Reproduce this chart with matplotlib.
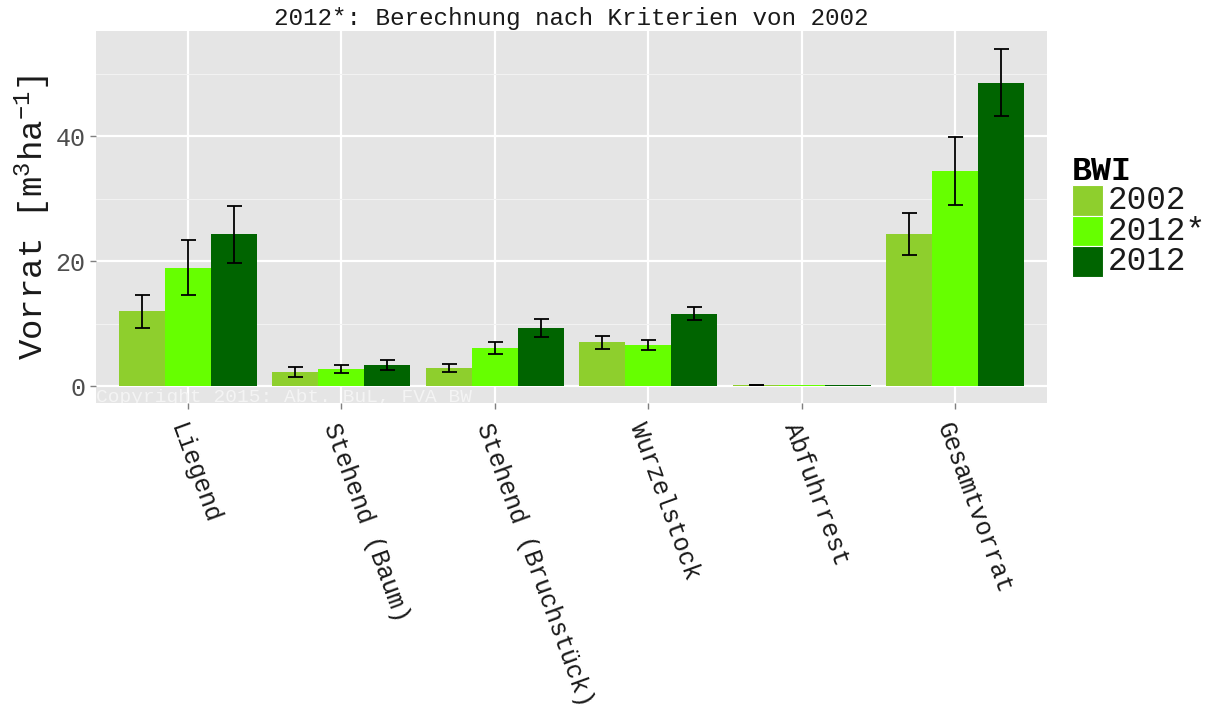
import matplotlib
matplotlib.use("Agg")
import matplotlib.pyplot as plt
from matplotlib.patches import Rectangle
import numpy as np

categories = ["Liegend", "Stehend (Baum)", "Stehend (Bruchstück)", "Wurzelstock", "Abfuhrrest", "Gesamtvorrat"]
series = ["2002", "2012*", "2012"]
colors = ["#8ECF2D", "#66FF00", "#006400"]

vals_2002 = [12.0, 2.2, 2.9, 7.0, 0.15, 24.3]
low_2002 = [9.3, 1.4, 2.2, 6.0, 0.10, 21.0]
high_2002 = [14.6, 3.1, 3.6, 8.05, 0.20, 27.7]

vals_2012s = [18.9, 2.7, 6.1, 6.55, 0.10, 34.4]
low_2012s = [14.6, 2.1, 5.1, 5.8, np.nan, 29.0]
high_2012s = [23.4, 3.4, 7.0, 7.4, np.nan, 39.9]

vals_2012 = [24.3, 3.4, 9.3, 11.5, 0.10, 48.6]
low_2012 = [19.7, 2.6, 7.9, 10.6, np.nan, 43.2]
high_2012 = [28.8, 4.2, 10.7, 12.6, np.nan, 54.0]

values = [vals_2002, vals_2012s, vals_2012]
lows = [low_2002, low_2012s, low_2012]
highs = [high_2002, high_2012s, high_2012]

title = "2012*: Berechnung nach Kriterien von 2002"
ylabel = "Vorrat [m$^3$ha$^{-1}$]"
legend_title = "BWI"
copyright_text = "Copyright 2015: Abt. BuL, FVA BW"
yticks = [0, 20, 40]
yminor = [10, 30, 50]

FONT = "Liberation Mono"
plt.rcParams["font.family"] = [FONT, "DejaVu Sans"]
plt.rcParams["mathtext.fontset"] = "custom"
plt.rcParams["mathtext.rm"] = FONT
plt.rcParams["mathtext.it"] = FONT
plt.rcParams["mathtext.bf"] = FONT + ":bold"

W, H = 1221, 713
fig = plt.figure(figsize=(W / 100, H / 100), dpi=100)
L, R, T, B = 96, 1047, 31, 403
ax = fig.add_axes([L / W, 1 - B / H, (R - L) / W, (B - T) / H])
ax.set_facecolor("#E5E5E5")
for s in ax.spines.values():
    s.set_visible(False)

x = np.arange(1, len(categories) + 1)
bw = 0.3
for i, (v, lo, hi, c) in enumerate(zip(values, lows, highs, colors)):
    xp = x + (i - 1) * bw
    ax.bar(xp, v, width=bw, color=c, zorder=2, linewidth=0)
    v = np.array(v, dtype=float); lo = np.array(lo, dtype=float); hi = np.array(hi, dtype=float)
    ok = ~np.isnan(lo)
    ax.errorbar(xp[ok], v[ok], yerr=[v[ok] - lo[ok], hi[ok] - v[ok]], fmt="none", ecolor="black",
                elinewidth=1.3, capsize=5.4, capthick=1.3, zorder=3)

ax.set_xlim(0.4, len(categories) + 0.6)
ax.set_ylim(-2.71, 56.9)
ax.set_yticks(yticks)
ax.set_yticks(yminor, minor=True)
ax.set_xticks(x)
ax.set_xticklabels([])
ax.grid(which="major", axis="both", color="white", linewidth=1.6, zorder=0)
ax.grid(which="minor", axis="y", color="#F2F2F2", linewidth=0.8, zorder=0)
ax.set_axisbelow(True)
ax.tick_params(axis="both", which="major", length=4.5, width=1.0, color="#7F7F7F",
               labelsize=18, labelcolor="#4D4D4D", pad=3)
ax.tick_params(axis="y", which="minor", length=0)

# x tick labels, rotated
for xi, lab in zip(x, categories):
    ax.annotate(lab, xy=(xi, 0), xycoords=ax.get_xaxis_transform(),
                xytext=(0, -12), textcoords="offset points",
                rotation=-70, rotation_mode="anchor", ha="left", va="top",
                fontsize=18, color="#1A1A1A")

ax.set_ylabel(ylabel, fontsize=24.5, color="#1A1A1A", labelpad=2)
ax.set_title(title, fontsize=17.5, color="#1A1A1A", pad=4)

ax.text(0.0, 0.003, copyright_text, transform=ax.transAxes, ha="left", va="baseline",
        fontsize=14, color="#F4F4F4", clip_on=True, zorder=1)

# legend (manual, figure pixel coordinates)
lx, ly0, kw, kh = 1072, 185, 31, 30.7
fig.text(lx / W, 1 - 171 / H, legend_title, fontsize=24, fontweight="bold",
         ha="left", va="center", color="black")
for i, (lab, c) in enumerate(zip(series, colors)):
    y0 = ly0 + i * kh
    fig.add_artist(Rectangle((lx / W, 1 - (y0 + kh) / H), kw / W, kh / H,
                             transform=fig.transFigure, facecolor=c,
                             edgecolor="white", linewidth=0.8))
    fig.text((lx + kw + 5) / W, 1 - (y0 + kh / 2) / H, lab, fontsize=23.5,
             ha="left", va="center", color="#1A1A1A")

fig.savefig("out.png", dpi=100)
